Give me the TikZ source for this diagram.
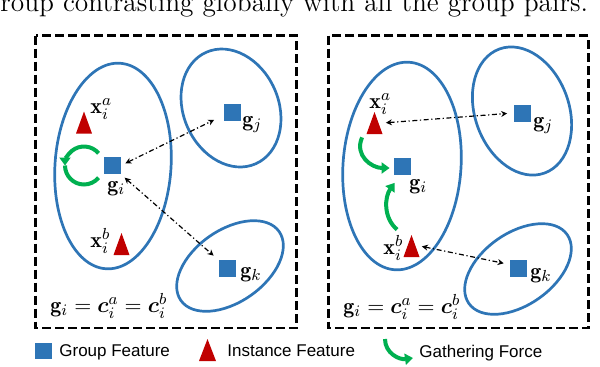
\documentclass[tikz,border=0pt]{standalone}
\usepackage{amsmath}
\usepackage{amssymb}
\usepackage{fontspec}
\newfontfamily\legendfont{Liberation Sans}
\usepackage{tikz}
\usetikzlibrary{arrows.meta,positioning,calc}
\definecolor{grpblue}{RGB}{46,117,182}
\definecolor{insred}{RGB}{192,0,0}
\definecolor{gathgreen}{RGB}{0,176,80}
\tikzset{
  panel/.style={draw=black, line width=1.35pt, dash pattern=on 4.5pt off 2pt},
  grp/.style={draw=grpblue, line width=1.35pt},
  gfeat/.style={fill=grpblue, inner sep=0pt, minimum width=8.5pt, minimum height=8.5pt},
  ifeat/.style={
    inner sep=0pt, minimum width=8pt, minimum height=11pt,
    path picture={\fill[insred] (path picture bounding box.south west)
      -- (path picture bounding box.south east) -- (path picture bounding box.north) -- cycle;}
  },
  lbl/.style={inner sep=0pt, anchor=base west, font=\fontsize{11}{13}\selectfont},
  pair/.style={
    {Stealth[length=3pt,width=3pt]}-{Stealth[length=3pt,width=3pt]},
    line width=0.6pt, dash pattern=on 2.5pt off 1.3pt on 0.6pt off 1.3pt
  },
  gforce/.style={draw=gathgreen, line width=2pt, -{Triangle[length=4pt,width=5.5pt]}},
  legend/.style={inner sep=0pt, anchor=base west, font=\legendfont\fontsize{8.5}{10}\selectfont}
}
\begin{document}
\begin{tikzpicture}[x=0.5pt, y=-0.5pt]
  \useasboundingbox (0,0) rectangle (600,366);
  \node[anchor=base west, inner sep=0pt, font=\fontsize{13.7}{16}\selectfont] (cap) at (0,11.5)
    {roup contrasting globally with all the group pairs.};

  % left panel: group gathers itself
  \draw[panel] (35.5,35.5) rectangle (296.5,328);
  \draw[grp, rotate around={-4:(113,166)}] (113,166) ellipse [x radius=58, y radius=103];
  \draw[grp, rotate around={24:(231,108)}] (231,108) ellipse [x radius=47.5, y radius=61];
  \draw[grp, rotate around={35:(230,266)}] (230,266) ellipse [x radius=60, y radius=36];
  \node[gfeat] (gi) at (112,165.5) {};
  \node[gfeat] (gj) at (232,112.5) {};
  \node[gfeat] (gk) at (227,268.5) {};
  \node[ifeat] (xa) at (84,122.5) {};
  \node[ifeat] (xb) at (121.5,244) {};
  \node[lbl] (xalbl) at (90,113) {$\mathbf{x}_i^a$};
  \node[lbl] (xblbl) at (90,247) {$\mathbf{x}_i^b$};
  \node[lbl] (gilbl) at (107,191) {$\mathbf{g}_i$};
  \node[lbl] (gjlbl) at (242,126.5) {$\mathbf{g}_j$};
  \node[lbl] (gklbl) at (240,277) {$\mathbf{g}_k$};
  \node[lbl] (eqa) at (50,312) {$\mathbf{g}_i = \boldsymbol{c}_i^a = \boldsymbol{c}_i^b$};
  \draw[pair, shorten <=2.5pt, shorten >=5pt] (gi.east) -- ([yshift=-1.5pt]gj.west);
  \draw[pair, shorten <=2.5pt, shorten >=3pt] (gi.south east) -- (gk.north west);
  \draw[gforce] ([xshift=-14pt]gi.center) ++(-40:19) arc[start angle=-40, end angle=-180, radius=19];
  \draw[gforce, -] ([xshift=-14pt]gi.center) ++(-180:19) arc[start angle=-180, end angle=-320, radius=19];

  % right panel: instances gather to the group
  \draw[panel] (328.3,35.5) rectangle (588.3,328);
  \draw[grp, rotate around={-4:(402,166)}] (402,166) ellipse [x radius=59, y radius=104];
  \draw[grp, rotate around={20:(522,111)}] (522,111) ellipse [x radius=47, y radius=66];
  \draw[grp, rotate around={35:(518,269)}] (518,269) ellipse [x radius=60, y radius=36];
  \node[gfeat] (gi2) at (402.5,166) {};
  \node[gfeat] (gj2) at (522,113) {};
  \node[gfeat] (gk2) at (518.5,268.5) {};
  \node[ifeat] (xa2) at (374.5,123) {};
  \node[ifeat] (xb2) at (411.5,246) {};
  \node[lbl] (xalbl2) at (369,108) {$\mathbf{x}_i^a$};
  \node[lbl] (xblbl2) at (383,254) {$\mathbf{x}_i^b$};
  \node[lbl] (gilbl2) at (409,189) {$\mathbf{g}_i$};
  \node[lbl] (gjlbl2) at (533,127) {$\mathbf{g}_j$};
  \node[lbl] (gklbl2) at (530,278) {$\mathbf{g}_k$};
  \node[lbl] (eqb) at (343,313) {$\mathbf{g}_i = \boldsymbol{c}_i^a = \boldsymbol{c}_i^b$};
  \draw[pair, shorten <=1.5pt, shorten >=3pt] (xa2.east) -- (gj2.west);
  \draw[pair, shorten <=1pt, shorten >=3pt] (xb2.east) -- ([yshift=2pt]gk2.west);
  \draw[gforce] ([xshift=-2pt,yshift=-1.5pt]xa2.south west)
    .. controls +(-8,18) and +(-18,0) .. ([xshift=-2pt,yshift=-1pt]gi2.west);
  \draw[gforce] ([xshift=-3pt,yshift=2.5pt]xb2.north west)
    .. controls +(-14,-12) and +(-10,14) .. ([xshift=0.5pt,yshift=-4pt]gi2.south west);

  % legend
  \node[gfeat, minimum height=8pt] (lgsq) at (43,350.5) {};
  \node[legend] (lgg) at (59,356.7) {Group Feature};
  \node[ifeat, minimum width=8.5pt] (lgtri) at (207.5,350) {};
  \node[legend] (lgi) at (227,356.7) {Instance Feature};
  \coordinate (lgs) at (385,339);
  \coordinate (lge) at (413,358);
  \draw[gforce] (lgs) .. controls +(0,14) and +(-14,2) .. (lge);
  \node[legend] (lgf) at (419,357) {Gathering Force};
\end{tikzpicture}
\end{document}
